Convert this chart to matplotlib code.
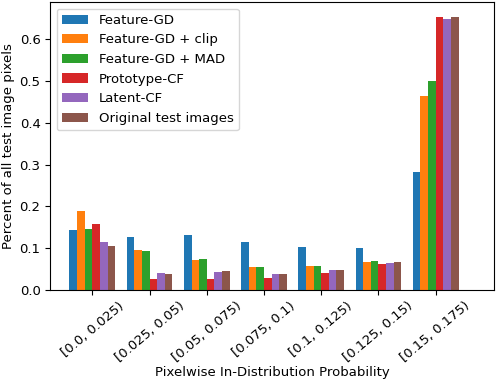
import matplotlib
matplotlib.use("Agg")
import matplotlib.pyplot as plt
import numpy as np

bins = ["[0.0, 0.025)", "[0.025, 0.05)", "[0.05, 0.075)", "[0.075, 0.1)",
        "[0.1, 0.125)", "[0.125, 0.15)", "[0.15, 0.175)"]
series_names = ["Feature-GD", "Feature-GD + clip", "Feature-GD + MAD",
                "Prototype-CF", "Latent-CF", "Original test images"]
feature_gd = [0.1425, 0.126, 0.131, 0.114, 0.102, 0.100, 0.283]
feature_gd_clip = [0.188, 0.095, 0.071, 0.055, 0.057, 0.0665, 0.463]
feature_gd_mad = [0.147, 0.093, 0.074, 0.055, 0.057, 0.069, 0.501]
prototype_cf = [0.159, 0.026, 0.026, 0.028, 0.040, 0.062, 0.653]
latent_cf = [0.114, 0.040, 0.043, 0.038, 0.0475, 0.064, 0.648]
original = [0.1045, 0.038, 0.045, 0.038, 0.0475, 0.0665, 0.653]
all_series = [feature_gd, feature_gd_clip, feature_gd_mad, prototype_cf, latent_cf, original]
colors = ["#1f77b4", "#ff7f0e", "#2ca02c", "#d62728", "#9467bd", "#8c564b"]

plt.rcParams['font.size'] = 9.5
fig = plt.figure(figsize=(4.96, 3.84), dpi=100)
ax = fig.add_axes([50/496, 1 - 290/384, 444/496, 288/384])
x = np.arange(len(bins))
n = len(all_series)
w = 0.8 / n
for i, (vals, name, c) in enumerate(zip(all_series, series_names, colors)):
    ax.bar(x - 0.4 + w * (i + 0.5), vals, width=w, color=c, label=name)
ax.set_xticks(x)
ax.set_xticklabels(bins, rotation=40)
ax.set_xlim(-0.74, 7.02)
ax.set_ylim(0, 0.689)
ax.tick_params(length=3.3)
ax.set_xlabel("Pixelwise In-Distribution Probability", labelpad=1)
ax.set_ylabel("Percent of all test image pixels", labelpad=3)
ax.legend(loc="upper left")
fig.savefig("out.png", dpi=100)
